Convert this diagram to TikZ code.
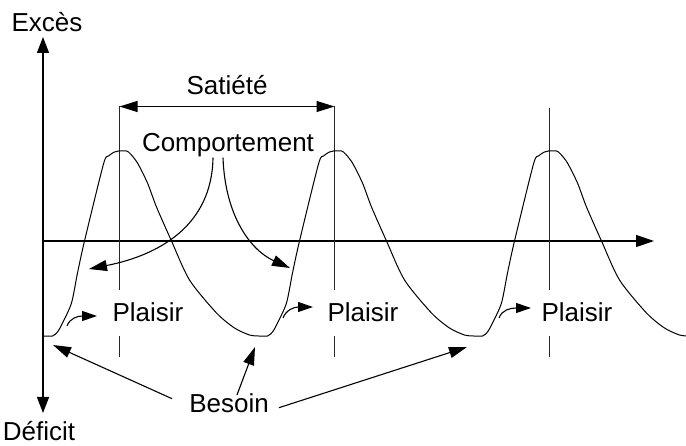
\documentclass[tikz,border=0pt]{standalone}
\usepackage{fontspec}
\setmainfont{Liberation Sans}
\usetikzlibrary{arrows.meta,calc}
\begin{document}
\begin{tikzpicture}[x=1pt,y=-1pt,
  lbl/.style={font=\fontsize{26}{30}\selectfont, inner sep=0pt, anchor=base},
  tip/.style={-{Triangle[length=18pt,width=11pt]}},
  axtip/.style={-{Triangle[length=16pt,width=12pt]}},
  smalltip/.style={-{Triangle[length=15pt,width=10pt]}},
  axis/.style={line width=1.3pt},
  guide/.style={line width=1.3pt, black!85},
  wave/.style={line width=1pt, line join=round},
  conn/.style={line width=1.1pt}]
\useasboundingbox (0,0) rectangle (686,446);

% texts
\node[lbl] (exces) at (47,32) {Excès};
\node[lbl] (deficit) at (39,441) {Déficit};
\node[lbl] (satiete) at (227,95) {Satiété};
\node[lbl] (comp) at (228,152) {Comportement};
\node[lbl] (pl1) at (148,322) {Plaisir};
\node[lbl] (pl2) at (363,322) {Plaisir};
\node[lbl] (pl3) at (577,322) {Plaisir};
\node[lbl] (besoin) at (229,413) {Besoin};

% axes
\coordinate (O) at (43,241);
\coordinate (ytop) at (43,37);
\coordinate (ybot) at (43,413);
\coordinate (xend) at (654,241);
\draw[axis,axtip] (O) -- (ytop);
\draw[axis,axtip] (O) -- (ybot);
\draw[axis,-{Triangle[length=18pt,width=12pt]}] (O) -- (xend);

% guide lines at the peaks
\foreach \p/\t in {119.5/106, 334.5/106, 549.5/108} {
  \draw[guide] (\p,\t) -- (\p,290);
  \draw[guide] (\p,336) -- (\p,357);
}

% wave
\foreach \p in {119.5,334.5,549.5} {
  \draw[wave] plot[smooth,tension=0.45] coordinates {
    ({\p-76},336) ({\p-67},336) ({\p-62},332) ({\p-57},323) ({\p-48},303)
    ({\p-42},273) ({\p-35},241) ({\p-16},164) ({\p-11},156) ({\p-5},152)
    ({\p-1},151) ({\p+7},151) ({\p+11},154) ({\p+18},163) ({\p+28},183)
    ({\p+37},207) ({\p+52},241) ({\p+70},280) ({\p+97},313) ({\p+115},328)
    ({\p+130},335) ({\p+139},336)};
}

% Satiete
\coordinate (s1) at (119.5,106.5);
\coordinate (s2) at (334.5,106.5);
\draw[conn,line width=1.2pt,{Triangle[length=18pt,width=11pt]}-{Triangle[length=18pt,width=11pt]}] (s1) -- (s2);

% Comportement arrows
\coordinate (cl) at (89,269);
\coordinate (cr) at (290,268);
\draw[conn,tip] ([xshift=-15pt]comp.south) .. controls (212,225) and (160,255) .. (cl);
\draw[conn,tip] ([xshift=-5pt]comp.south) .. controls (225,215) and (250,250) .. (cr);

% Plaisir arrows
\coordinate (a1) at (67,326);
\coordinate (b1) at (97,316);
\coordinate (a2) at (283,318);
\coordinate (b2) at (313,307);
\coordinate (a3) at (499,318);
\coordinate (b3) at (531,308);
\draw[conn,smalltip] (a1) .. controls (70,318) and (78,316) .. (b1);
\draw[conn,smalltip] (a2) .. controls (286,310) and (294,307) .. (b2);
\draw[conn,smalltip] (a3) .. controls (502,310) and (510,308) .. (b3);

% Besoin arrows
\coordinate (m1) at (53,345);
\coordinate (m2) at (255,347);
\coordinate (m3) at (467,347);
\draw[conn,tip] ($(besoin.west)+(-17,-5)$) -- (m1);
\draw[conn,tip] ($(besoin.north)+(8,1)$) -- (m2);
\draw[conn,tip] ($(besoin.east)+(10,4)$) -- (m3);
\end{tikzpicture}
\end{document}
